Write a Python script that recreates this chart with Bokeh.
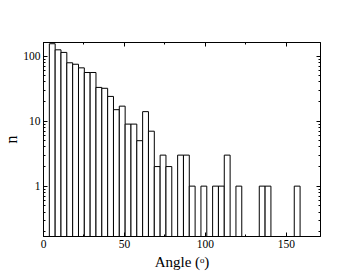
import numpy as np
from bokeh.plotting import figure
from bokeh.models import (Range1d, LinearAxis, LogAxis, FixedTicker,
                          SingleIntervalTicker, PrintfTickFormatter, ColumnDataSource)
from bokeh.embed import file_html
from bokeh.resources import INLINE

# ---- data (histogram of angles, bin width 3.6 deg) ----
bin_width = 3.6
bin_index = list(range(1, 44))
counts = [155, 125, 114, 79, 75, 66, 56, 56, 33, 32,
          24, 15, 17, 9, 9, 5, 14, 7, 2, 3,
          2, 0, 3, 3, 1, 0, 1, 0, 1, 1,
          3, 0, 1, 0, 0, 0, 1, 1, 0, 0,
          0, 0, 1]
x_ticks = [0, 50, 100, 150]
y_ticks = [1, 10, 100]

left = [i * bin_width for i, c in zip(bin_index, counts) if c > 0]
right = [(i + 1) * bin_width for i, c in zip(bin_index, counts) if c > 0]
top = [c for c in counts if c > 0]
src = ColumnDataSource(dict(left=left, right=right, top=top,
                            bottom=[0.01] * len(top)))

FONT = "Liberation Serif"

p = figure(frame_width=277, frame_height=194,
           x_range=Range1d(0, 171), y_range=Range1d(0.168, 162),
           y_axis_type="log", output_backend="svg", toolbar_location=None,
           min_border_left=42, min_border_right=40,
           min_border_top=42, min_border_bottom=40,
           background_fill_color="white", border_fill_color="white")
p.grid.visible = False
p.outline_line_color = "black"

p.quad(left="left", right="right", top="top", bottom="bottom", source=src,
       fill_color="white", line_color="black", line_width=1)

minor_y = [m * 10.0 ** e for e in range(-1, 3) for m in range(2, 10)]
yt = FixedTicker(ticks=y_ticks, minor_ticks=minor_y)
xt = SingleIntervalTicker(interval=50, num_minor_ticks=2)


def style(ax, labels=True):
    ax.axis_line_color = "black"
    ax.major_tick_in = 4
    ax.major_tick_out = 0
    ax.minor_tick_in = 2
    ax.minor_tick_out = 0
    ax.major_tick_line_color = "black"
    ax.minor_tick_line_color = "black"
    ax.major_label_text_font = FONT
    ax.major_label_text_font_size = "11.5px"
    ax.major_label_text_color = "black"
    ax.axis_label_text_font = FONT
    ax.axis_label_text_font_style = "normal"
    ax.axis_label_text_color = "black"
    if not labels:
        ax.major_label_text_alpha = 0
        ax.major_label_text_font_size = "1px"


xa = p.xaxis[0]
xa.ticker = xt
style(xa)
xa.major_label_standoff = 3
xa.axis_label = "Angle (ᵒ)"
xa.axis_label_text_font_size = "15px"
xa.axis_label_standoff = 3

ya = p.yaxis[0]
ya.ticker = yt
ya.formatter = PrintfTickFormatter(format="%d")
style(ya)
ya.major_label_standoff = 3
ya.axis_label = "n"
ya.axis_label_text_font_size = "16px"
ya.axis_label_standoff = 0

top_ax = LinearAxis(ticker=SingleIntervalTicker(interval=50, num_minor_ticks=2))
style(top_ax, labels=False)
p.add_layout(top_ax, "above")

right_ax = LogAxis(ticker=FixedTicker(ticks=y_ticks, minor_ticks=minor_y))
style(right_ax, labels=False)
p.add_layout(right_ax, "right")

open("out.html", "w").write(file_html(p, INLINE))
